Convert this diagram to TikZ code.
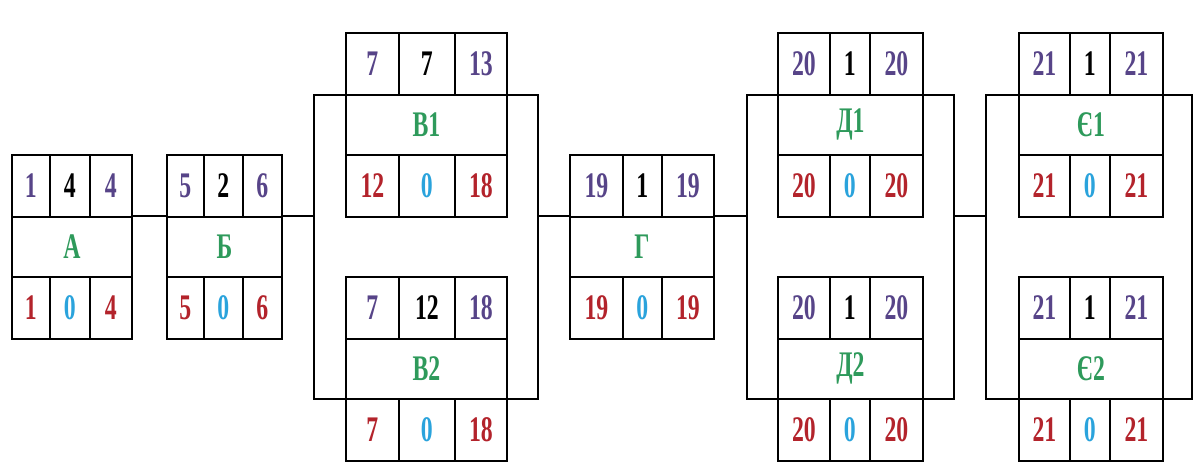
\documentclass[tikz,border=0pt]{standalone}
\usepackage{fontspec}
\setmainfont{Liberation Serif}
\newfontfamily\numfont{Liberation Serif}[FakeStretch=0.66]
\definecolor{purp}{HTML}{574488}
\definecolor{redn}{HTML}{B3232B}
\definecolor{cyann}{HTML}{2AA3DC}
\definecolor{greenn}{HTML}{2E9A5B}
\tikzset{
  cell/.style={draw, line width=1.8pt, fill=white, inner sep=0pt, anchor=north west,
    font=\numfont\bfseries\fontsize{36}{36}\selectfont},
  bracketbox/.style={draw, line width=1.8pt, inner sep=0pt, anchor=north west},
  conn/.style={line width=1.8pt}
}
\def\threeparts#1,#2,#3\endthree{\def\cellA{#1}\def\cellB{#2}\def\cellC{#3}}
% #1 id, #2 L, #3 d1, #4 d2, #5 R, #6 T, #7 top list, #8 name, #9 bottom list
\newcommand\activity[9]{%
  \pgfmathsetmacro\wa{#3-#2}\pgfmathsetmacro\wb{#4-#3}%
  \pgfmathsetmacro\wc{#5-#4}\pgfmathsetmacro\wt{#5-#2}%
  \threeparts#7\endthree
  \node[cell, minimum width=\wa pt, minimum height=62pt, text=purp] (#1-tl) at (#2,#6) {\cellA};
  \node[cell, minimum width=\wb pt, minimum height=62pt, text=black] (#1-tm) at (#3,#6) {\cellB};
  \node[cell, minimum width=\wc pt, minimum height=62pt, text=purp] (#1-tr) at (#4,#6) {\cellC};
  \node[cell, minimum width=\wt pt, minimum height=60pt, text=greenn] (#1-mid) at (#2,#6+62) {#8};
  \threeparts#9\endthree
  \node[cell, minimum width=\wa pt, minimum height=62pt, text=redn] (#1-bl) at (#2,#6+122) {\cellA};
  \node[cell, minimum width=\wb pt, minimum height=62pt, text=cyann] (#1-bm) at (#3,#6+122) {\cellB};
  \node[cell, minimum width=\wc pt, minimum height=62pt, text=redn] (#1-br) at (#4,#6+122) {\cellC};
}
\begin{document}
\begin{tikzpicture}[x=1pt, y=-1pt]
  \fill[white] (0,0) rectangle (1194,472);
  \useasboundingbox (0,0) rectangle (1194,472);
  % brackets
  \node[bracketbox, minimum width=224pt, minimum height=304pt] (Vbr) at (313,94) {};
  \node[bracketbox, minimum width=207pt, minimum height=304pt] (Dbr) at (746,94) {};
  \node[bracketbox, minimum width=206pt, minimum height=304pt] (Ebr) at (985,94) {};
  % activities
  \activity{A}{11}{49}{89}{131}{154}{1,4,4}{А}{1,0,4}
  \activity{B}{166}{203}{242}{281}{154}{5,2,6}{Б}{5,0,6}
  \activity{V1}{345}{398}{454}{506}{32}{7,7,13}{В1}{12,0,18}
  \activity{V2}{345}{398}{454}{506}{276}{7,12,18}{В2}{7,0,18}
  \activity{G}{569}{622}{661}{713}{154}{19,1,19}{Г}{19,0,19}
  \activity{D1}{777}{829}{869}{922}{32}{20,1,20}{Д1}{20,0,20}
  \activity{D2}{777}{829}{869}{922}{276}{20,1,20}{Д2}{20,0,20}
  \activity{E1}{1018}{1069}{1109}{1162}{32}{21,1,21}{Є1}{21,0,21}
  \activity{E2}{1018}{1069}{1109}{1162}{276}{21,1,21}{Є2}{21,0,21}
  % connectors
  \draw[conn] (A-mid.north east) -- (B-mid.north west);
  \draw[conn] (B-mid.north east) -- (B-mid.north east -| Vbr.west);
  \draw[conn] (G-mid.north west -| Vbr.east) -- (G-mid.north west);
  \draw[conn] (G-mid.north east) -- (G-mid.north east -| Dbr.west);
  \draw[conn] (G-mid.north -| Dbr.east) -- (G-mid.north -| Ebr.west);
\end{tikzpicture}
\end{document}
